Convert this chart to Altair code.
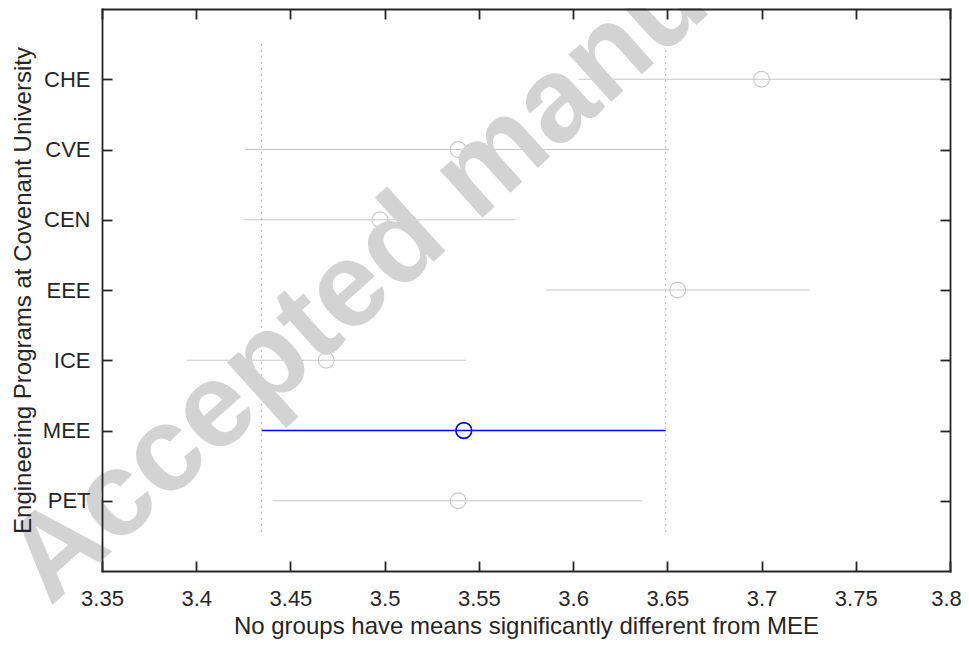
import json
import altair as alt
import pandas as pd

# ---- data ----
programs = ["CHE", "CVE", "CEN", "EEE", "ICE", "MEE", "PET"]
group_means = [3.700, 3.539, 3.4975, 3.6555, 3.469, 3.542, 3.539]
ci_lower = [3.603, 3.426, 3.4255, 3.5855, 3.395, 3.4347, 3.4406]
ci_upper = [3.797, 3.651, 3.5695, 3.7255, 3.543, 3.6491, 3.6367]
control_group = "MEE"
x_tick_values = [3.35, 3.4, 3.45, 3.5, 3.55, 3.6, 3.65, 3.7, 3.75, 3.8]
x_domain = [3.35, 3.8]
y_domain = [0, 8]
ref_span = [0.5, 7.5]
x_title = "No groups have means significantly different from MEE"
y_title = "Engineering Programs at Covenant University"
watermark_text = "Accepted manuscript"

positions = list(range(1, len(programs) + 1))
status = ["control" if p == control_group else "other" for p in programs]
df = pd.DataFrame({
    "program": programs, "pos": positions, "mean": group_means,
    "lo": ci_lower, "hi": ci_upper, "status": status,
})
ci = dict(zip(programs, zip(ci_lower, ci_upper)))[control_group]
ref_df = pd.DataFrame({"bound": list(ci), "y0": [ref_span[0]] * 2, "y1": [ref_span[1]] * 2})
wm_df = pd.DataFrame({"label": [watermark_text]})

FONT = "Liberation Sans"
DARK = "#262626"
GREY = "#c8c8c8"
BLUE = "#0000ff"
LW = 1.8
TICK = 10
W, H = 848, 562

x_scale = alt.Scale(domain=x_domain, nice=False, zero=False)
y_scale = alt.Scale(domain=y_domain, reverse=True, nice=False, zero=False)
color_scale = alt.Scale(domain=["other", "control"], range=[GREY, BLUE])
width_scale = alt.Scale(domain=["other", "control"], range=[1.1, 1.6])
pw_scale = alt.Scale(domain=["other", "control"], range=[1.4, 2.1])
label_expr = json.dumps([""] + programs) + "[datum.value]"
last_tick = x_tick_values[-1]

common = dict(grid=False, zindex=1)

x_main = alt.Axis(orient="bottom", values=x_tick_values, format="~g", offset=0,
                  domain=True, domainColor=DARK, domainWidth=LW, domainCap="square",
                  ticks=False, tickSize=0, labelPadding=17, labelFont=FONT,
                  labelFontSize=22, labelColor=DARK, labelFlush=False,
                  labelOverlap=False,
                  labelOffset={"condition": {"test": f"datum.value >= {last_tick - 0.001}",
                                             "value": -4}, "value": 0},
                  title=x_title, titleFont=FONT,
                  titleFontSize=24, titleFontWeight="normal", titleColor=DARK,
                  titleBaseline="alphabetic", titleX=W / 2, titleY=62, **common)
y_main = alt.Axis(orient="left", values=positions, labelExpr=label_expr, offset=0,
                  domain=True, domainColor=DARK, domainWidth=LW, domainCap="square",
                  ticks=False, tickSize=0, labelPadding=12, labelFont=FONT,
                  labelFontSize=22, labelColor=DARK, labelOverlap=False,
                  title=y_title, titleFont=FONT,
                  titleFontSize=24, titleFontWeight="normal", titleColor=DARK,
                  titleBaseline="alphabetic", titleAngle=270, titleX=-72, titleY=H / 2,
                  **common)
x_top = alt.Axis(orient="top", values=x_tick_values, offset=0, domain=True,
                 domainColor=DARK, domainWidth=LW, domainCap="square", ticks=False,
                 tickSize=0, labels=False, title=None, **common)
y_right = alt.Axis(orient="right", values=positions, offset=0, domain=True,
                   domainColor=DARK, domainWidth=LW, domainCap="square", ticks=False,
                   tickSize=0, labels=False, title=None, **common)
x_tb = alt.Axis(orient="bottom", values=x_tick_values, offset=-TICK, domain=False,
                ticks=True, tickSize=TICK, tickColor=DARK, tickWidth=LW,
                labels=False, title=None, **common)
y_tl = alt.Axis(orient="left", values=positions, offset=-TICK, domain=False,
                ticks=True, tickSize=TICK, tickColor=DARK, tickWidth=LW,
                labels=False, title=None, **common)
x_tt = alt.Axis(orient="top", values=x_tick_values, offset=-TICK, domain=False,
                ticks=True, tickSize=TICK, tickColor=DARK, tickWidth=LW,
                labels=False, title=None, **common)
y_tr = alt.Axis(orient="right", values=positions, offset=-TICK, domain=False,
                ticks=True, tickSize=TICK, tickColor=DARK, tickWidth=LW,
                labels=False, title=None, **common)

base = alt.Chart(df)

intervals = base.mark_rule().encode(
    x=alt.X("lo:Q", scale=x_scale, axis=x_main),
    x2="hi:Q",
    y=alt.Y("pos:Q", scale=y_scale, axis=y_main),
    color=alt.Color("status:N", scale=color_scale, legend=None),
    strokeWidth=alt.StrokeWidth("status:N", scale=width_scale, legend=None),
)

refs = alt.Chart(ref_df).mark_rule(color="#a8a8a8", strokeDash=[1.5, 4.5], strokeWidth=1).encode(
    x=alt.X("bound:Q", scale=x_scale, axis=x_tb),
    y=alt.Y("y0:Q", scale=y_scale, axis=y_tl),
    y2="y1:Q",
)

points = base.mark_point(shape="circle", filled=False, size=250, opacity=1).encode(
    x=alt.X("mean:Q", scale=x_scale, axis=x_top),
    y=alt.Y("pos:Q", scale=y_scale, axis=y_right),
    color=alt.Color("status:N", scale=color_scale, legend=None),
    strokeWidth=alt.StrokeWidth("status:N", scale=pw_scale, legend=None),
)

watermark = alt.Chart(wm_df).mark_text(
    font=FONT, fontSize=120, fontWeight="bold", color="#d3d3d3", angle=318,
    align="left", baseline="alphabetic",
).encode(text="label:N", x=alt.value(-52), y=alt.value(598))

tick_holder = base.mark_point(opacity=0).encode(
    x=alt.X("mean:Q", scale=x_scale, axis=x_tt),
    y=alt.Y("pos:Q", scale=y_scale, axis=y_tr),
)

chart = alt.layer(intervals, refs, points, watermark, tick_holder).resolve_axis(
    x="independent", y="independent"
).properties(
    width=W, height=H,
    autosize=alt.AutoSizeParams(type="none"),
    padding={"left": 94, "top": 1, "right": 11, "bottom": 68},
).configure_view(stroke=None)

chart.save("out.html", embed_options={"renderer": "svg", "actions": False})
